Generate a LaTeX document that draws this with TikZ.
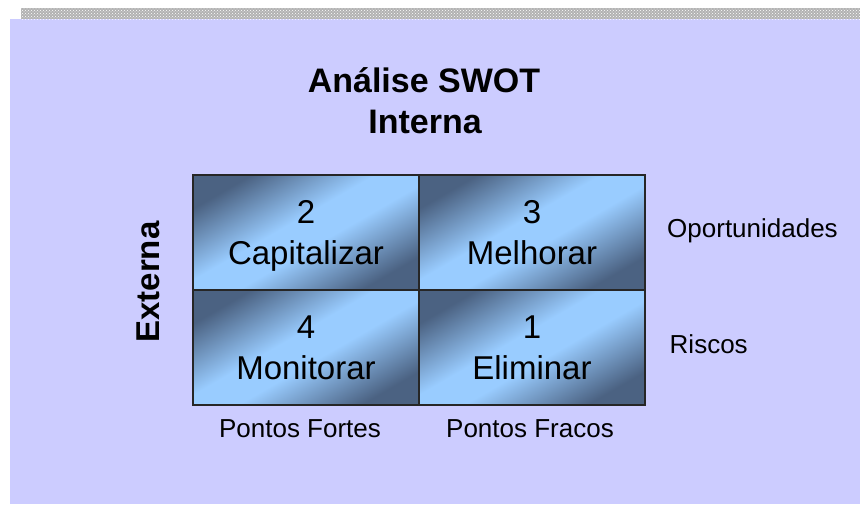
\documentclass[tikz,border=0pt]{standalone}
\usepackage{fontspec}
\setmainfont{Liberation Sans}
\usetikzlibrary{positioning,patterns}
\definecolor{lavender}{HTML}{CCCCFF}
\definecolor{slateblue}{HTML}{4B6282}
\definecolor{skyblue}{HTML}{99CCFF}
\pgfdeclareverticalshading{cellshade}{100bp}{color(0bp)=(slateblue); color(25bp)=(slateblue);
  color(45bp)=(skyblue); color(55bp)=(skyblue); color(75bp)=(slateblue); color(100bp)=(slateblue)}
\tikzset{
  quadrant/.style={draw=black!85, line width=1.2pt, outer sep=0pt, inner sep=0pt,
    minimum width=226pt, minimum height=115pt,
    shading=cellshade, shading angle=30,
    align=center, text depth=0pt, font=\fontsize{33}{41}\selectfont},
  axislabel/.style={font=\fontsize{26}{30}\selectfont, anchor=base},
  heading/.style={font=\bfseries\fontsize{34}{41}\selectfont, anchor=base}
}

\begin{document}
\begin{tikzpicture}[x=1pt,y=-1pt]

\def\PAGECOLOR{white}
\def\BACKGROUND{lavender}
\def\STRIPCOLOR{gray!60}
	\useasboundingbox[fill=\PAGECOLOR] (0,0) rectangle (860,504);
	\fill[\BACKGROUND] (10,19) rectangle (860,504);
	\fill[\STRIPCOLOR] (21,8) rectangle (860,19);
	\fill[pattern=crosshatch dots, pattern color=white] (21,8) rectangle (860,19);

	% titulo
	\node[heading] (analise) at (424,92) {Análise SWOT};
	\node[heading] (interna) at (425,133) {Interna};
	\node[heading, font=\bfseries\fontsize{33}{40}\selectfont, rotate=90] (externa) at (159.5,282) {Externa};

	% quadrantes
	\node[quadrant] (capitalizar) at (306,232.5) {2\\Capitalizar};
	\node[quadrant, right=0pt of capitalizar] (melhorar) {3\\Melhorar};
	\node[quadrant, below=0pt of capitalizar] (monitorar) {4\\Monitorar};
	\node[quadrant, below=0pt of melhorar] (eliminar) {1\\Eliminar};

	% eixos
	\node[axislabel] (fortes) at (300,437) {Pontos Fortes};
	\node[axislabel] (fracos) at (530,437) {Pontos Fracos};
	\node[axislabel, anchor=base west, inner sep=0pt] (oportunidades) at (667,237) {Oportunidades};
	\node[axislabel, anchor=base west, inner sep=0pt] (riscos) at (669.5,353) {Riscos};

\end{tikzpicture}
\end{document}
